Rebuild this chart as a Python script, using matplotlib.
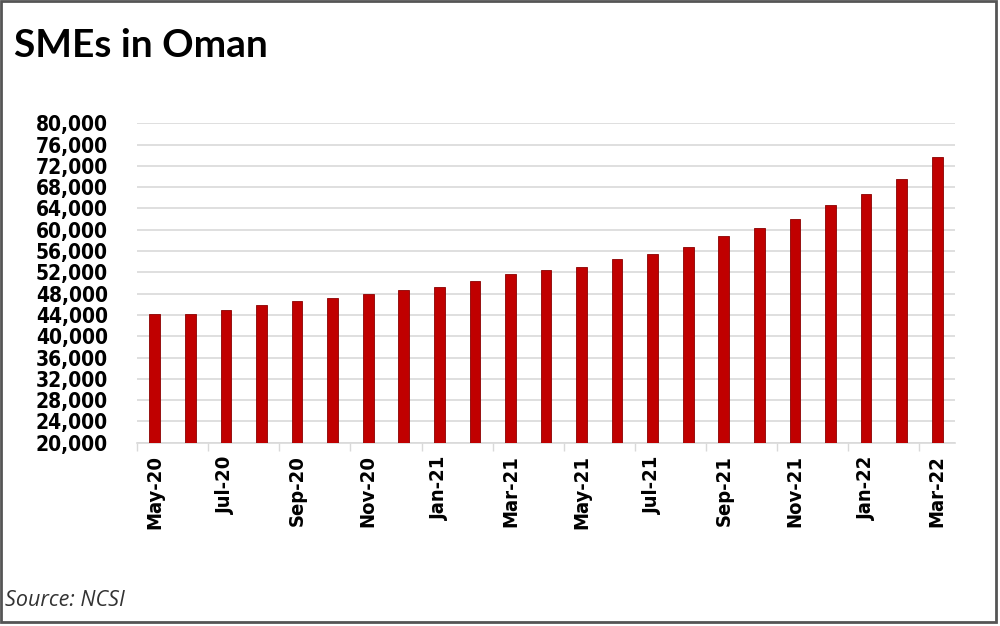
import matplotlib.pyplot as plt
from matplotlib.patches import Rectangle

months = ["May-20", "Jun-20", "Jul-20", "Aug-20", "Sep-20", "Oct-20", "Nov-20", "Dec-20",
          "Jan-21", "Feb-21", "Mar-21", "Apr-21", "May-21", "Jun-21", "Jul-21", "Aug-21",
          "Sep-21", "Oct-21", "Nov-21", "Dec-21", "Jan-22", "Feb-22", "Mar-22"]
smes = [44260, 44260, 45010, 45880, 46700, 47130, 48010, 48760, 49190, 50440,
        51690, 52510, 52940, 54570, 55380, 56690, 58760, 60390, 62070, 64570,
        66630, 69570, 73760]
y_ticks = list(range(20000, 80001, 4000))

fig = plt.figure(figsize=(10, 6.26), dpi=100)
ax = fig.add_axes([0.137, 0.2928, 0.818, 0.5102])

x = list(range(len(months)))
ax.bar(x, smes, width=0.3, color="#c00000", edgecolor="#8b0000", linewidth=0.6,
       zorder=3)

ax.set_ylim(20000, 80000)
ax.set_xlim(-0.5, len(months) - 0.5)
ax.grid(axis="y", color="#d9d9d9", linewidth=1.2, zorder=0)
ax.set_yticks(y_ticks)
ax.set_yticklabels([f"{v:,}" for v in y_ticks], fontsize=15, fontweight="bold",
                   family="DejaVu Sans", fontstretch="condensed")
ax.tick_params(axis="y", which="major", length=0, pad=21)

ax.set_xticks(x[::2])
ax.set_xticklabels(months[::2], rotation=90, fontsize=14.5, fontweight="bold",
                   family="DejaVu Sans", fontstretch="condensed")
ax.tick_params(axis="x", which="major", length=0, pad=9)
ax.set_xticks([i - 0.5 for i in x[::2]], minor=True)
ax.tick_params(axis="x", which="minor", length=6, color="#d9d9d9", width=1)

for s in ["top", "right", "left"]:
    ax.spines[s].set_visible(False)
ax.spines["bottom"].set_color("#d9d9d9")
ax.spines["bottom"].set_linewidth(1.2)

fig.text(0.014, 0.928, "SMEs in Oman", fontsize=28, fontweight="bold",
         family="Lato", va="center", ha="left")
fig.text(0.005, 0.04, "Source: NCSI", fontsize=15.5, style="italic",
         family="Open Sans", color="#333333", va="center", ha="left")

fig.add_artist(Rectangle((0.001, 0.007), 0.995, 0.991, transform=fig.transFigure,
                         fill=False, edgecolor="#555555", linewidth=2))

fig.savefig("out.png", dpi=100)
plt.close(fig)
